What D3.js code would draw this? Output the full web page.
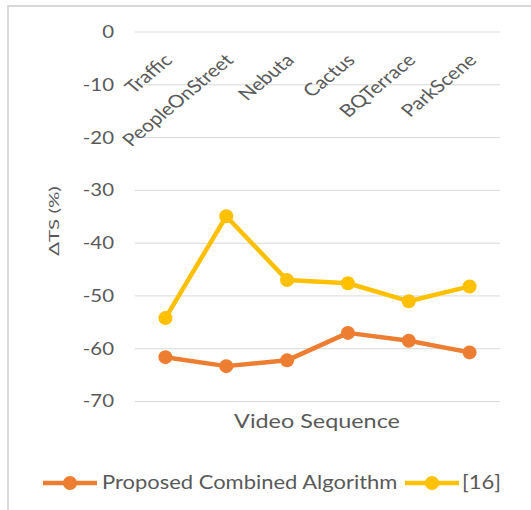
<!DOCTYPE html>
<html>
<head>
<meta charset="utf-8">
<script src="https://cdn.jsdelivr.net/npm/d3@7/dist/d3.min.js"></script>
<style>
  html, body { margin: 0; padding: 0; background: #fff; }
  svg { display: block; }
  text { font-family: Lato, "Open Sans", sans-serif; fill: #595959; }
</style>
</head>
<body>
<svg id="chart" width="531" height="510"></svg>
<script>
// Video sequences on the category axis
const categories = ["Traffic", "PeopleOnStreet", "Nebuta", "Cactus", "BQTerrace", "ParkScene"];
// ΔTS (%) per sequence
const proposedValues = [-61.6, -63.3, -62.2, -57.0, -58.5, -60.7];
const ref16Values = [-54.2, -34.9, -47.0, -47.6, -51.0, -48.2];
const yTicks = [0, -10, -20, -30, -40, -50, -60, -70];
const seriesNames = ["Proposed Combined Algorithm", "[16]"];
const seriesColors = ["#ED7D31", "#FFC000"];

// text is drawn slightly widened horizontally
const SX = 1.2;

const svg = d3.select("#chart");

// chart area frame (top and left edges)
svg.append("path")
  .attr("d", "M8,510 V6 H531")
  .attr("fill", "none")
  .attr("stroke", "#D9D9D9")
  .attr("stroke-width", 2);

const x = d3.scalePoint().domain(categories).range([135, 500]).padding(0.5);
const y = d3.scaleLinear().domain([-70, 0]).range([401.5, 32]);

// horizontal gridlines
svg.append("g").selectAll("line").data(yTicks).join("line")
  .attr("x1", 135).attr("x2", 500)
  .attr("y1", d => y(d)).attr("y2", d => y(d))
  .attr("stroke", "#D9D9D9").attr("stroke-width", 1);

// value axis labels
const yAxis = d3.axisLeft(y).tickValues(yTicks).tickSize(0).tickPadding(0)
  .tickFormat(d => String(d));
const gy = svg.append("g").attr("transform", "translate(114,0)").call(yAxis);
gy.select(".domain").remove();
gy.selectAll(".tick text")
  .attr("x", 0)
  .attr("transform", `scale(${SX},1)`)
  .attr("fill", "#595959")
  .style("font-family", "Lato, sans-serif")
  .style("font-size", "17px");

// category labels, rotated, sitting at the top of the plot
svg.append("g").selectAll("text").data(categories).join("text")
  .attr("transform", d => `translate(${x(d) + 3},57) scale(${SX},1) rotate(-45)`)
  .attr("text-anchor", "end")
  .attr("dy", "0.35em")
  .style("font-size", "17.5px")
  .text(d => d);

// series lines and markers
const series = [proposedValues, ref16Values];
const line = d3.line().x((d, i) => x(categories[i])).y(d => y(d));
series.forEach((vals, s) => {
  svg.append("path")
    .datum(vals)
    .attr("d", line)
    .attr("fill", "none")
    .attr("stroke", seriesColors[s])
    .attr("stroke-width", 4.5)
    .attr("stroke-linejoin", "round")
    .attr("stroke-linecap", "round");
  svg.append("g").selectAll("circle").data(vals).join("circle")
    .attr("cx", (d, i) => x(categories[i]))
    .attr("cy", d => y(d))
    .attr("r", 7)
    .attr("fill", seriesColors[s]);
});

// axis titles
svg.append("text")
  .attr("transform", "translate(54,221) rotate(-90) scale(1,0.66)")
  .attr("text-anchor", "middle")
  .attr("dy", "0.35em")
  .style("font-size", "20.5px")
  .text("ΔTS (%)");

svg.append("text")
  .attr("transform", `translate(317,428) scale(${SX},1)`)
  .attr("text-anchor", "middle")
  .style("font-size", "19.5px")
  .text("Video Sequence");

// legend
const legendItems = [
  { x1: 43, x2: 97, tx: 102 },
  { x1: 405, x2: 459, tx: 462 }
];
legendItems.forEach((it, s) => {
  const g = svg.append("g");
  g.append("line")
    .attr("x1", it.x1).attr("x2", it.x2).attr("y1", 483).attr("y2", 483)
    .attr("stroke", seriesColors[s]).attr("stroke-width", 4.5);
  g.append("circle")
    .attr("cx", (it.x1 + it.x2) / 2).attr("cy", 483).attr("r", 7)
    .attr("fill", seriesColors[s]);
  g.append("text")
    .attr("transform", `translate(${it.tx},483) scale(${SX},1)`)
    .attr("dy", "0.35em")
    .style("font-size", "18.3px")
    .text(seriesNames[s]);
});
</script>
</body>
</html>
